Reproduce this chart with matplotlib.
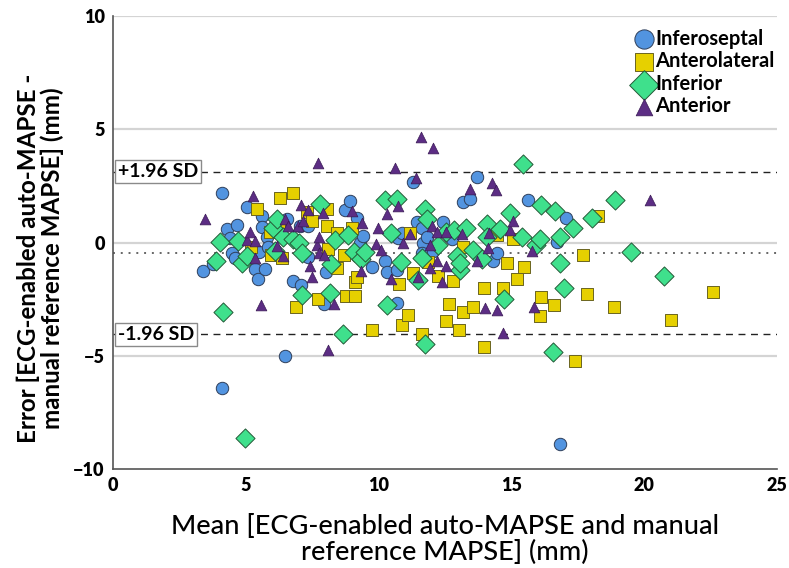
import matplotlib
matplotlib.use("Agg")
import matplotlib.pyplot as plt
import numpy as np

plt.rcParams['font.family'] = ['Lato', 'DejaVu Sans']

# Bland-Altman data: (mean, error) pairs per wall
inferoseptal_x = [3.38, 3.78, 4.09, 4.09, 4.28, 4.41, 4.47, 4.59, 4.66, 5.03, 5.35, 5.47, 5.51, 5.60, 5.60,
                  5.72, 5.79, 5.84, 6.48, 6.54, 6.78, 7.04, 7.07, 7.35, 7.35, 7.94, 8.02, 8.73, 8.92, 9.20,
                  9.30, 9.42, 9.74, 10.24, 10.32, 10.68, 10.68, 10.73, 10.87, 11.31, 11.43, 11.62, 11.69,
                  11.62, 11.81, 12.06, 12.44, 12.66, 12.75, 13.16, 13.44, 13.72, 14.32, 14.44, 15.61,
                  16.70, 16.83, 17.04]
inferoseptal_y = [-1.25, -0.97, 2.20, -6.43, 0.58, 0.21, -0.46, -0.68, 0.78, 1.58, -1.19, -1.60, -0.40, 1.19, 0.68,
                  -1.15, 0.25, -0.22, -5.03, 1.02, -1.71, 0.72, -1.86, 0.72, -0.62, -2.70, -1.30, 1.43, 1.84, 1.08,
                  0.00, 0.28, -1.10, -0.83, -1.30, -1.20, -2.67, 0.22, 0.43, 2.67, 0.90, 0.65, 0.00,
                  -0.46, 0.25, -0.38, 0.90, 0.28, 0.16, 1.80, 1.90, 2.89, -0.83, -0.46, 1.87,
                  0.02, -8.90, 1.09]

anterolateral_x = [5.18, 5.41, 5.91, 5.95, 6.25, 6.29, 6.35, 6.79, 6.88, 7.30, 7.48, 7.72, 8.04, 8.06, 8.10,
                   8.45, 8.45, 8.69, 8.78, 9.00, 9.12, 9.10, 9.19, 9.77, 10.76, 10.88, 11.09, 11.18, 11.30,
                   11.65, 11.87, 12.25, 12.53, 12.65, 12.80, 13.04, 13.18, 13.17, 13.55, 13.98, 13.98, 14.45,
                   14.70, 14.82, 15.05, 15.20, 15.46, 16.10, 16.08, 16.62, 17.38, 17.70, 17.83, 18.27, 18.88,
                   21.00, 22.60]
anterolateral_y = [-0.20, 1.47, 0.47, -0.55, 0.58, 1.98, -0.68, 2.20, -2.85, 1.35, 0.94, -2.50, 1.46, 0.75, -0.30,
                   0.43, -1.12, -0.57, -2.38, 0.63, -2.34, -1.75, -1.53, -3.85, -1.85, -3.63, -3.22, 0.40, -1.36,
                   -4.05, -0.88, -1.47, -3.48, -2.73, -1.70, -3.87, -0.20, -3.05, -2.86, -2.00, -4.62, 0.35,
                   -2.00, -0.92, 0.14, -1.60, -1.07, -2.40, -3.23, -2.74, -5.23, -0.55, -2.27, 1.16, -2.86,
                   -3.41, -2.18]

inferior_x = [3.88, 4.03, 4.15, 4.72, 4.84, 4.97, 5.03, 6.04, 6.10, 6.16, 6.40, 6.78, 7.02, 7.10, 7.13,
              7.80, 8.17, 8.22, 8.36, 8.67, 8.86, 9.08, 9.34, 9.49, 10.24, 10.31, 10.48, 10.68, 10.84,
              11.50, 11.62, 11.75, 11.75, 11.81, 12.25, 12.54, 12.84, 12.94, 13.06, 13.08, 13.30, 13.55,
              13.90, 14.07, 14.08, 14.58, 14.72, 14.93, 15.40, 15.42, 15.93, 16.08, 16.10, 16.55, 16.63,
              16.82, 16.83, 16.97, 17.31, 18.02, 18.90, 19.49, 20.75]
inferior_y = [-0.83, 0.03, -3.07, 0.08, -0.90, -8.64, -0.58, 0.62, -0.38, 1.02, 0.26, 0.15, -0.02, -0.46, -2.30,
              1.68, -2.25, -0.93, 0.13, -4.04, 0.33, -0.42, -0.75, -0.42, 1.88, -2.74, 0.43, 1.94, -0.87,
              -1.64, -0.70, 1.46, -4.50, 1.02, -0.09, 0.45, 0.55, -0.60, -1.20, -0.90, 0.66, -0.32,
              -0.75, 0.80, 0.26, 0.58, -2.50, 1.29, 0.23, 3.47, -0.13, 0.15, 1.66, -4.85, 1.37,
              0.26, -0.90, -2.02, 0.63, 1.06, 1.86, -0.43, -1.46]

anterior_x = [3.48, 5.03, 5.17, 5.28, 5.35, 5.35, 5.57, 6.16, 6.39, 6.48, 6.60, 6.98, 7.08, 7.14, 7.35,
              7.43, 7.48, 7.67, 7.73, 7.77, 7.77, 7.94, 7.92, 8.08, 8.31, 8.98, 9.32, 9.36, 9.90, 9.99,
              10.08, 10.30, 10.46, 10.62, 10.73, 10.93, 11.18, 11.41, 11.50, 11.60, 11.93, 11.93, 12.00,
              12.06, 12.20, 12.21, 12.37, 12.52, 12.52, 13.15, 13.44, 13.70, 14.00, 14.13, 14.16, 14.26,
              14.42, 14.47, 14.68, 14.95, 15.07, 15.78, 15.84, 20.22]
anterior_y = [1.02, 0.10, 0.45, 2.05, -0.70, 0.06, -2.75, -0.16, -0.59, 1.02, 0.72, 0.72, 1.64, 0.94, 1.43,
              -1.04, -1.52, -0.10, 3.53, 0.26, -0.45, -0.55, 1.31, -4.75, -2.70, 1.39, -1.27, 0.84, -0.06, 0.62,
              -0.35, 1.24, -1.62, 3.30, 1.61, -0.02, 0.39, 2.83, -1.51, 4.68, -0.09, -1.12, 0.72,
              4.16, 0.45, -0.83, -1.75, 0.48, -1.05, 0.36, 2.35, -0.82, -2.89, -0.24, 0.40, 2.61,
              2.30, -3.00, -3.98, 0.54, 0.95, -0.38, -2.86, 1.86]

mean_bias = -0.46
upper_loa = 3.13
lower_loa = -4.06

fig = plt.figure(figsize=(7.89, 5.68), dpi=100)
ax = fig.add_axes([0.1432, 0.1743, 0.8416, 0.7975])

# gridlines / reference lines
for yv in [10, 5, 0, -5]:
    ax.axhline(yv, color='#d4d4d4', lw=1.6, zorder=0)
ax.axhline(upper_loa, color='#222222', lw=1.0, ls=(0, (5, 4)), zorder=1)
ax.axhline(lower_loa, color='#222222', lw=1.0, ls=(0, (5, 4)), zorder=1)
ax.axhline(mean_bias, color='#666666', lw=1.4, ls=(0, (1, 3)), zorder=1)

ax.scatter(inferoseptal_x, inferoseptal_y, s=80, marker='o', c='#5294e0', edgecolors='#2f3f5a',
           linewidths=0.7, label='Inferoseptal', zorder=3)
ax.scatter(anterolateral_x, anterolateral_y, s=72, marker='s', c='#e6d000', edgecolors='#6a6420',
           linewidths=0.7, label='Anterolateral', zorder=3)
ax.scatter(inferior_x, inferior_y, s=95, marker='D', c='#3fe08c', edgecolors='#245a38',
           linewidths=0.7, label='Inferior', zorder=3)
ax.scatter(anterior_x, anterior_y, s=60, marker='^', c='#5c2d84', edgecolors='#3a1a55',
           linewidths=0.5, label='Anterior', zorder=3)

box = dict(boxstyle='square,pad=0.15', fc='white', ec='#8a8a8a', lw=1.0)
ax.text(0.18, upper_loa, '+1.96 SD', fontsize=14, fontweight='bold', va='center', ha='left',
        bbox=box, zorder=5)
ax.text(0.18, lower_loa, '-1.96 SD', fontsize=14, fontweight='bold', va='center', ha='left',
        bbox=box, zorder=5)

ax.set_xlim(0, 25)
ax.set_ylim(-10, 10)
ax.set_xticks([0, 5, 10, 15, 20, 25])
ax.set_yticks([-10, -5, 0, 5, 10])
ax.tick_params(length=0, labelsize=13, pad=6)
for lab in ax.get_xticklabels() + ax.get_yticklabels():
    lab.set_fontweight('heavy')

for side in ['top', 'right']:
    ax.spines[side].set_visible(False)
for side in ['left', 'bottom']:
    ax.spines[side].set_color('#555555')
    ax.spines[side].set_linewidth(1.2)

ax.set_xlabel('Mean [ECG-enabled auto-MAPSE and manual\nreference MAPSE] (mm)', fontsize=19.5,
              labelpad=14, linespacing=1.05, fontweight='medium')
ax.set_ylabel('Error [ECG-enabled auto-MAPSE -\nmanual reference MAPSE] (mm)', fontsize=17.4,
              fontweight='bold', linespacing=1.0)
ax.yaxis.set_label_coords(-0.074, 0.466)

leg = ax.legend(loc='upper right', bbox_to_anchor=(1.008, 0.99), frameon=False, markerscale=1.55,
                handletextpad=0.0, labelspacing=0.13, borderaxespad=0.0, handlelength=1.1,
                prop={'weight': 'bold', 'size': 14.5})

fig.savefig('out.png', dpi=100)
